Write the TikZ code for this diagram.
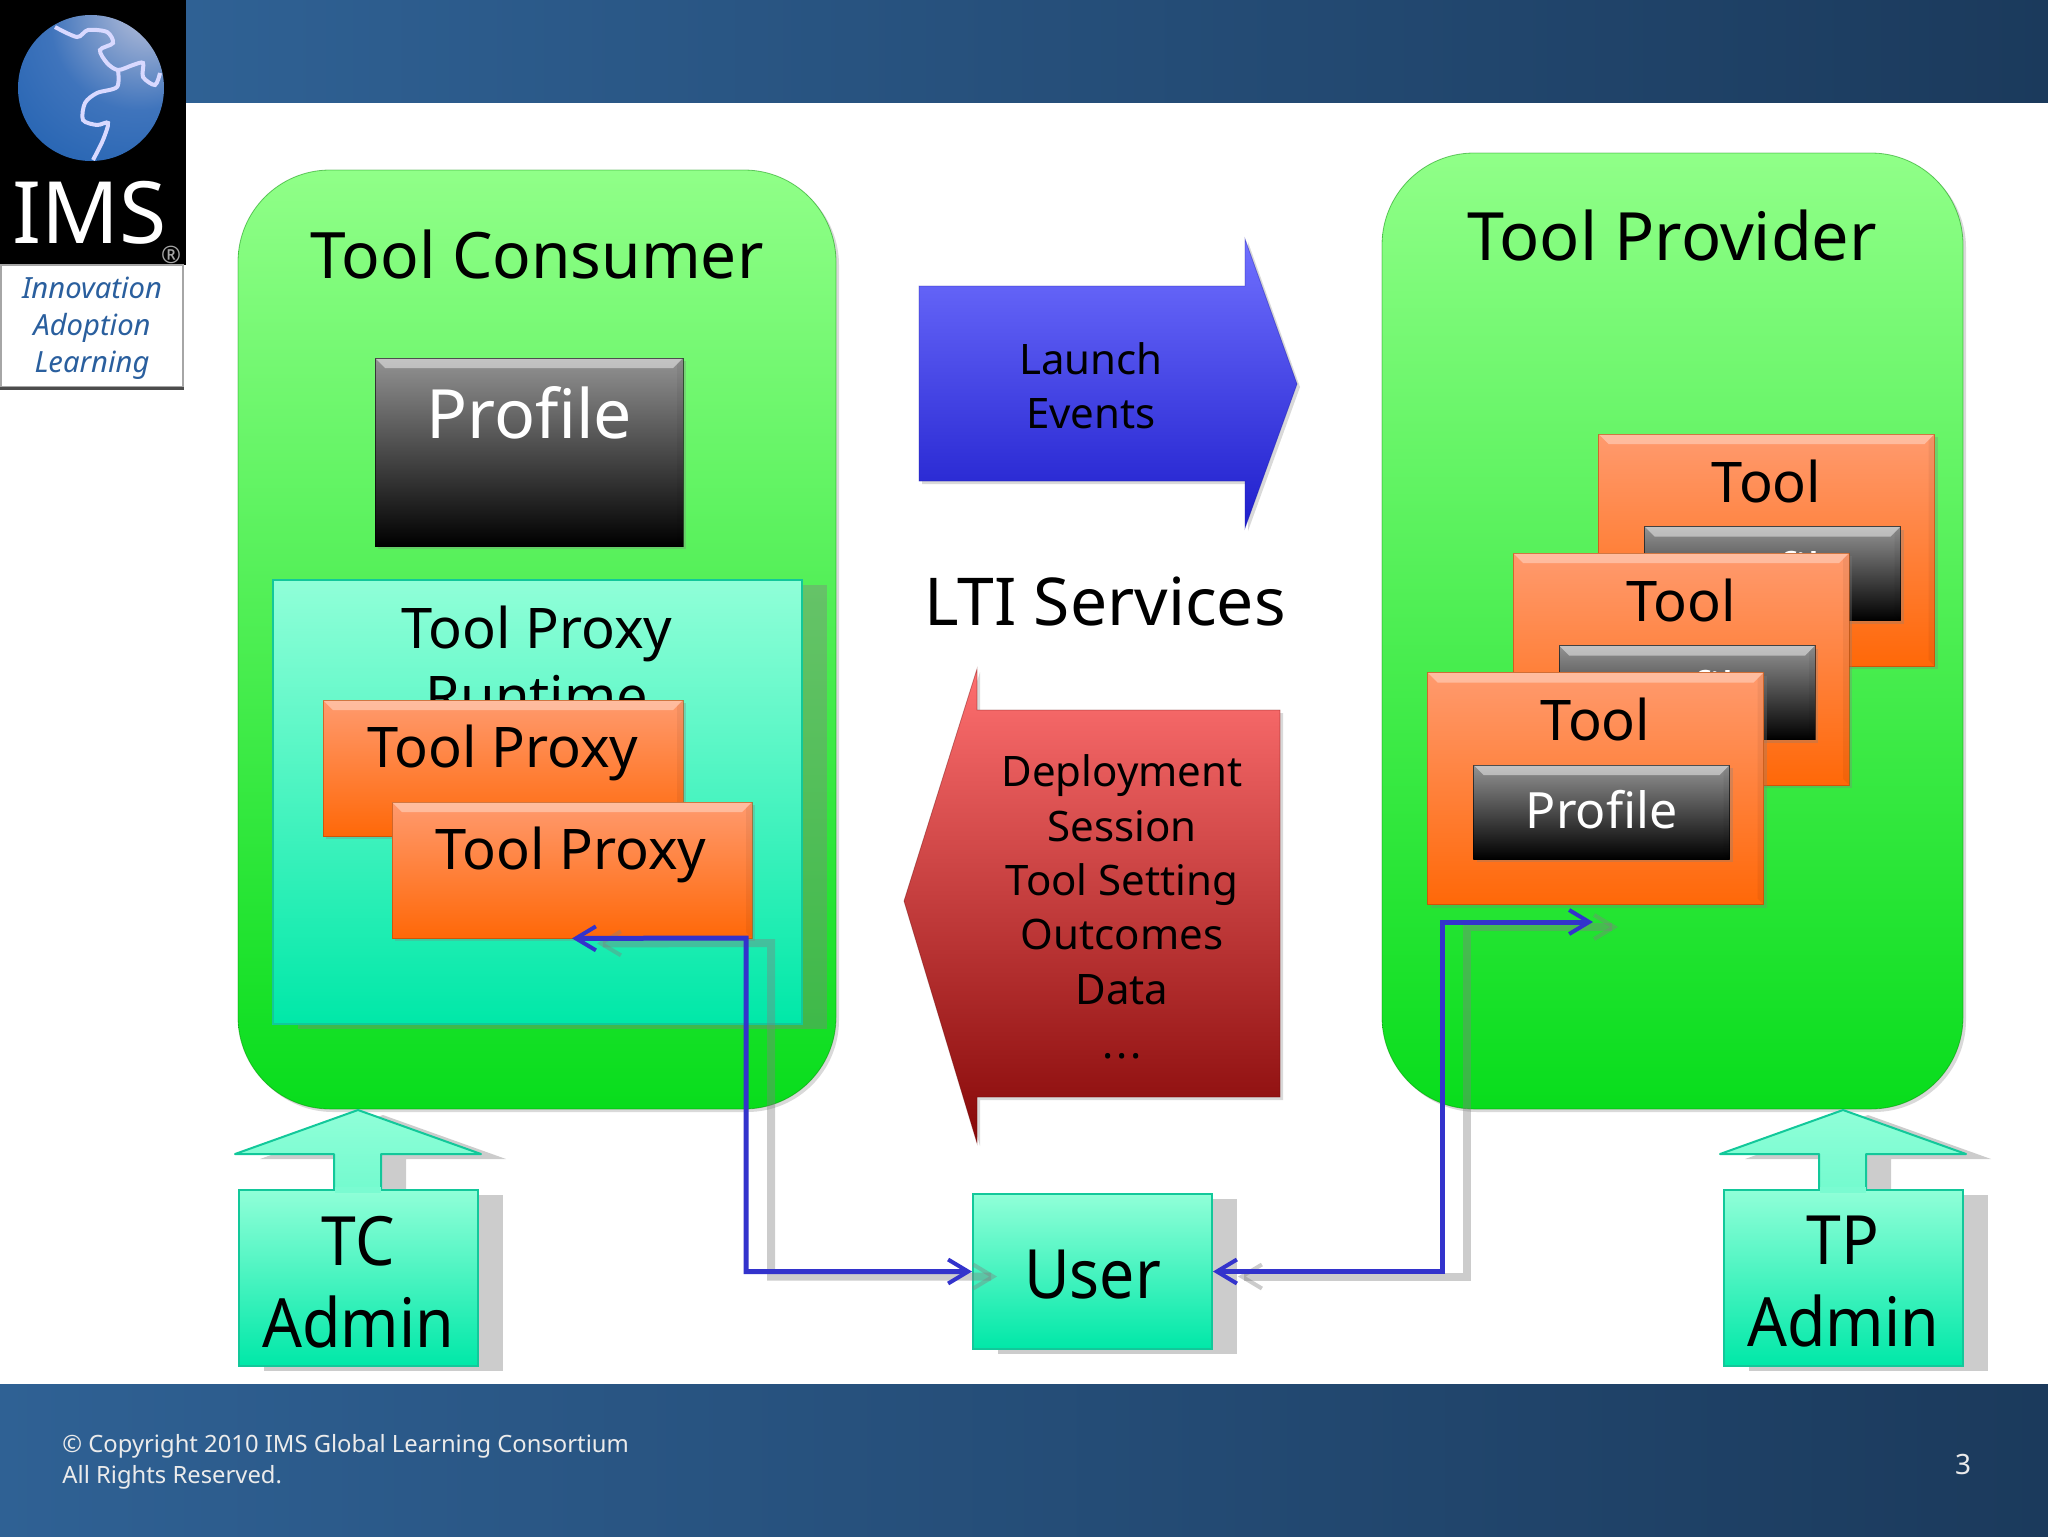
\documentclass[tikz,border=0pt]{standalone}
\usepackage{fontspec}
\setmainfont{Noto Sans}
\usetikzlibrary{shadows,arrows.meta}
\definecolor{barleft}{HTML}{2F6194}
\definecolor{barright}{HTML}{1B3A5C}
\definecolor{greentop}{HTML}{90FF88}
\definecolor{greenbot}{HTML}{08DD1C}
\definecolor{tealtop}{HTML}{90FFD8}
\definecolor{tealbot}{HTML}{00E8A8}
\definecolor{tealedge}{HTML}{12C89A}
\definecolor{orangetop}{HTML}{FF9A6E}
\definecolor{orangebot}{HTML}{FF6808}
\definecolor{bluetop}{HTML}{7070FF}
\definecolor{bluebot}{HTML}{1E1ECC}
\definecolor{redtop}{HTML}{FF7070}
\definecolor{redbot}{HTML}{860808}
\definecolor{linkblue}{HTML}{3333CC}
\definecolor{logoblue}{HTML}{2A5F9E}
\definecolor{globea}{HTML}{D8DCE8}
\definecolor{globeb}{HTML}{9FB0D4}
\definecolor{globec}{HTML}{3F74BC}
\definecolor{globed}{HTML}{1F60B0}
\definecolor{globee}{HTML}{1555A5}
\pgfdeclareradialshading{globeshade}{\pgfpoint{23bp}{32bp}}{color(0bp)=(globea);color(10bp)=(globeb);color(30bp)=(globec);color(55bp)=(globed);color(100bp)=(globee)}
\newcommand{\narrowtext}[1]{\scalebox{.92}[1]{#1}}
\begin{document}
\begin{tikzpicture}[x=0.5pt,y=-0.5pt]
	\tikzstyle{every node}=[inner sep=0pt]
	\tikzset{bevel/.style={path picture={
		\fill[white,opacity=#1] (path picture bounding box.north west) -- (path picture bounding box.north east) -- ++(-5pt,-5pt) -- ([shift={(5pt,-5pt)}]path picture bounding box.north west) -- cycle;
		\fill[black,opacity=.05] (path picture bounding box.north east) -- (path picture bounding box.south east) -- ++(-3pt,3pt) -- ([shift={(-3pt,-3pt)}]path picture bounding box.north east) -- cycle;
	}}}
	\tikzstyle{softshadow}=[drop shadow={shadow xshift=1.5pt,shadow yshift=-1.5pt,opacity=.3}]
	\tikzstyle{castshadow}=[drop shadow={shadow xshift=12.5pt,shadow yshift=-2.5pt,fill=gray,opacity=.4}]
	\tikzstyle{greenbox}=[rectangle,rounded corners=46pt,top color=greentop,bottom color=greenbot,draw=green!55!black,draw opacity=.5,softshadow]
	\tikzstyle{tealbox}=[rectangle,top color=tealtop,bottom color=tealbot,draw=tealedge,line width=1pt,castshadow]
	\tikzstyle{orangebox}=[rectangle,top color=orangetop,bottom color=orangebot,draw=orangebot!70!black,draw opacity=.6,bevel=.35,softshadow]
	\tikzstyle{profilebox}=[rectangle,top color=gray!85,bottom color=black,draw=black,draw opacity=.6,bevel=.45,softshadow]
	\tikzstyle{link}=[draw=linkblue,line width=2.5pt,{Straight Barb[length=10pt,width=12pt,line width=2pt]}-{Straight Barb[length=10pt,width=12pt,line width=2pt]}]
	\tikzstyle{linkcast}=[link,draw=gray,line width=4pt,opacity=.4,transform canvas={shift={(12.5pt,-2.5pt)}}]
	\tikzstyle{title}=[font=\fontsize{33}{40}\selectfont,align=center]
	\tikzstyle{medtext}=[font=\fontsize{28}{34}\selectfont,align=center]
	\tikzstyle{smalltext}=[font=\fontsize{21}{27.2}\selectfont,align=center]
	\tikzstyle{boxtext}=[font=\fontsize{34}{41}\selectfont,align=center]
	\tikzstyle{foottext}=[font=\fontsize{11.9}{15.5}\selectfont,text=white!92!black,align=left]
	\useasboundingbox (0,0) rectangle (2048,1536);
	\shade[left color=barleft,right color=barright] (186,0) rectangle (2048,103);
	\shade[left color=barleft,right color=barright] (0,1384) rectangle (2048,1536);
	\fill[black] (0,0) rectangle (186,265);
	\shade[shading=globeshade] (91,88) circle (73);
	\begin{scope}
		\clip (91,88) circle (73);
		\draw[white!85!blue,line width=2pt,smooth] plot coordinates {(55,27) (77,37) (88,30) (107,32) (113,43) (100,50) (107,63) (118,70) (133,65) (143,63) (143,77) (155,85) (160,73)};
		\draw[white!85!blue,line width=2pt,smooth] plot coordinates {(118,70) (117,87) (97,93) (85,103) (83,120) (97,125) (108,123) (103,140) (93,160)};
	\end{scope}
	\node[font=\fontsize{43}{43}\selectfont,text=white] (imsname) at (90,213) {IMS};
	\node[font=\fontsize{12}{12}\selectfont,text=gray!70] (imsreg) at (171,255) {®};
	\node[rectangle,draw=gray!70,line width=1pt,fill=white,minimum width=91pt,minimum height=61pt] (imsbox) at (92,326) {};
	\draw[gray!60!black,line width=1.5pt] (imsbox.south west) -- (imsbox.south east);
	\node[font=\fontsize{14.6}{18.5}\selectfont\bfseries\itshape,text=logoblue,align=center] (imstext) at (92,328) {Innovation\\Adoption\\Learning};
	\node[greenbox,minimum width=299pt,minimum height=469.5pt] (consumer) at (537,639.5) {};
	\node[greenbox,minimum width=290.5pt,minimum height=478pt] (provider) at (1672.5,631) {};
	\node[title,font=\fontsize{32}{40}\selectfont] (consumertitle) at (537,254) {Tool Consumer};
	\node[title,font=\fontsize{33.3}{40}\selectfont] (providertitle) at (1672,236) {Tool Provider};
	\node[profilebox,minimum width=154pt,minimum height=94pt] (profile) at (529,452) {};
	\node[title,font=\fontsize{34}{40}\selectfont,text=white] (profiletext) at (529,413) {Profile};
	\node[tealbox,minimum width=264.5pt,minimum height=222pt] (runtime) at (537.5,802) {};
	\node[medtext] (runtimetext) at (537,661) {Tool Proxy\\Runtime};
	\node[orangebox,minimum width=180pt,minimum height=68pt] (proxya) at (503,768) {};
	\node[medtext] (proxyatext) at (503,753) {Tool Proxy};
	\node[orangebox,minimum width=180pt,minimum height=68pt] (proxyb) at (572,870) {};
	\node[medtext] (proxybtext) at (571,855) {Tool Proxy};
	\foreach \name/\cx/\cy in {toolc/1766.5/550,toolb/1681/669,toola/1595.5/788.5} {
		\node[orangebox,minimum width=168pt,minimum height=116pt] (\name) at (\cx,\cy) {};
		\node[medtext] (\name text) at (\cx,\cy-69) {Tool};
		\node[profilebox,minimum width=128pt,minimum height=47pt] (\name profile) at (\cx+6,\cy+23.5) {};
		\node[medtext,font=\fontsize{25}{30}\selectfont,text=white] (\name label) at (\cx+6,\cy+21) {Profile};
	}
	\shade[top color=bluetop,bottom color=bluebot,draw=bluebot!80!black,draw opacity=.4,softshadow] (919,286) -- (1245,286) -- (1245,239) -- (1297,384) -- (1245,528) -- (1245,481) -- (919,481) -- cycle;
	\node[smalltext] (launch) at (1091,386) {Launch\\Events};
	\node[title] (services) at (1105,602) {LTI Services};
	\shade[top color=redtop,bottom color=redbot,draw=redbot!80!black,draw opacity=.4,softshadow] (1280,710) -- (977,710) -- (977,669) -- (904,901) -- (977,1143) -- (977,1097) -- (1280,1097) -- cycle;
	\node[smalltext] (deployment) at (1122,907) {Deployment\\Session\\Tool Setting\\Outcomes\\Data\\.\kern1.5pt.\kern1.5pt.};
	\foreach \admin/\ax/\lbl in {tcadmin/358/TC,tpadmin/1843/TP} {
		\shade[top color=tealtop,bottom color=tealtop!80!tealbot,castshadow] (\ax,1110) -- (\ax+123,1154) -- (\ax+23,1154) -- (\ax+23,1190) -- (\ax-24,1190) -- (\ax-24,1154) -- (\ax-123,1154) -- cycle;
		\draw[tealedge,line width=1pt,line join=round] (\ax+23,1190) -- (\ax+23,1154) -- (\ax+123,1154) -- (\ax,1110) -- (\ax-123,1154) -- (\ax-24,1154) -- (\ax-24,1190);
		\node[tealbox,minimum width=119.5pt,minimum height=88pt] (\admin) at (\ax+.5,1278) {};
		\node[boxtext] (\admin text) at (\ax,1282) {\narrowtext{\lbl}\\\narrowtext{Admin}};
		\fill[tealtop!85!tealbot] (\ax-23.5,1187) rectangle (\ax+22.5,1193);
	}
	\node[tealbox,minimum width=119.5pt,minimum height=77.5pt] (user) at (1092.5,1271.5) {};
	\node[boxtext] (usertext) at (1092.5,1275) {\narrowtext{User}};
	\coordinate (proxybend) at (746,938);
	\coordinate (toolbend) at (1442,922);
	\coordinate (tooltip) at (1593,922);
	\draw[linkcast] (proxyb.south) -- (proxybend) |- (user.west);
	\draw[linkcast] (user.east) -| (toolbend) -- (tooltip);
	\draw[link] (proxyb.south) -- (proxybend) |- (user.west);
	\draw[link] (user.east) -| (toolbend) -- (tooltip);
	\node[foottext,anchor=west] (copyright) at (62,1462) {© Copyright 2010 IMS Global Learning Consortium\\All Rights Reserved.};
	\node[foottext,font=\fontsize{14}{15}\selectfont] (pagenumber) at (1963,1464) {3};
\end{tikzpicture}
\end{document}
